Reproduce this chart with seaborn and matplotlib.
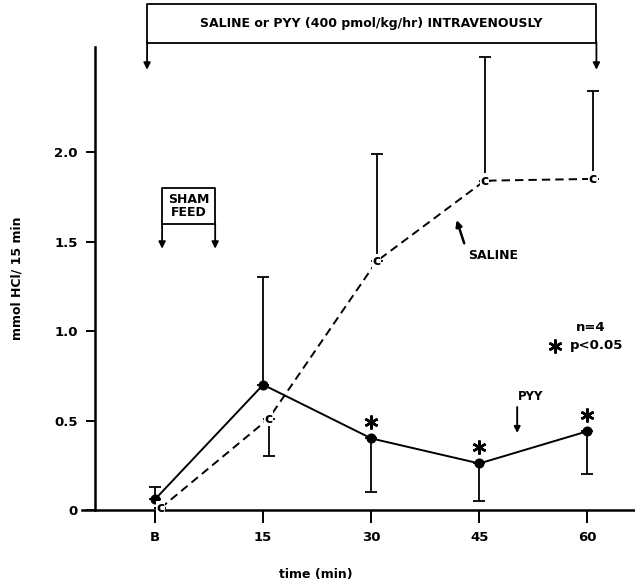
import numpy as np
import pandas as pd
import matplotlib
matplotlib.use("Agg")
import matplotlib.pyplot as plt
import seaborn as sns

# ----------------------------------
# data
# ----------------------------------
times = ["B", "15", "30", "45", "60"]

pyy_mean = [0.06, 0.70, 0.40, 0.26, 0.44]
pyy_err = [0.07, 0.60, 0.30, 0.21, 0.24]
pyy_err_up = [True, True, False, False, False]
pyy_sig = [False, False, True, True, True]

saline_mean = [0.01, 0.51, 1.39, 1.84, 1.85]
saline_err = [0.0, 0.21, 0.60, 0.69, 0.49]
saline_err_up = [True, False, True, True, True]

df = pd.DataFrame({
    "pos": np.arange(len(times)),
    "pyy": pyy_mean,
    "saline": saline_mean,
})

sns.set_theme(style="white")
plt.rcParams["font.family"] = ["DejaVu Sans"]
plt.rcParams["font.weight"] = "bold"
plt.rcParams["text.color"] = "black"
plt.rcParams["axes.labelcolor"] = "black"
plt.rcParams["xtick.color"] = "black"
plt.rcParams["ytick.color"] = "black"

fig = plt.figure(figsize=(6.35, 5.8), dpi=100)
ax = fig.add_axes([82 / 635, 70 / 580, 553 / 635, 463 / 580])

dodge = 0.05
star = (6, 2, 0)

# ----------------------------------
# lines
# ----------------------------------
sns.lineplot(x=df["pos"], y=df["pyy"], ax=ax, color="black", lw=1.4,
             marker="o", markersize=6.5, markeredgecolor="black", zorder=3)
sns.lineplot(x=df["pos"] + dodge, y=df["saline"], ax=ax, color="black",
             lw=1.4, dashes=False, zorder=2)
ax.lines[-1].set_dashes((4.3, 2.6))

# one-sided error bars
def one_sided(err, up):
    lower = [0 if u else e for e, u in zip(err, up)]
    upper = [e if u else 0 for e, u in zip(err, up)]
    return [lower, upper]

ax.errorbar(df["pos"], df["pyy"], yerr=one_sided(pyy_err, pyy_err_up),
            fmt="none", ecolor="black", elinewidth=1.3, capsize=4.5,
            capthick=1.3, zorder=2)
ax.errorbar(df["pos"] + dodge, df["saline"],
            yerr=one_sided(saline_err, saline_err_up),
            fmt="none", ecolor="black", elinewidth=1.3, capsize=4.5,
            capthick=1.3, zorder=2)

# "c" markers on saline points
for x, y in zip(df["pos"] + dodge, df["saline"]):
    ax.text(x, y, "c", ha="center", va="center", fontsize=10,
            fontweight="bold", zorder=4,
            bbox=dict(facecolor="white", edgecolor="none", pad=0.4))

# significance stars
sig = df[pyy_sig]
ax.plot(sig["pos"], sig["pyy"] + 0.09, ls="none", marker=star,
        markersize=10, mew=1.8, color="black")

# ----------------------------------
# axes
# ----------------------------------
ax.set_xlim(-0.676, 4.44)
ax.set_ylim(0, 2.587)
ax.set_xticks(df["pos"])
ax.set_xticklabels(times)
ax.set_yticks([0, 0.5, 1.0, 1.5, 2.0])
ax.set_yticklabels(["0", "0.5", "1.0", "1.5", "2.0"])
for s in ["top", "right"]:
    ax.spines[s].set_visible(False)
ax.spines["left"].set_position(("data", -0.556))
for s in ["left", "bottom"]:
    ax.spines[s].set_color("black")
    ax.spines[s].set_linewidth(1.8)
ax.tick_params(axis="x", direction="out", length=9, width=1.4, pad=6,
               labelsize=9.5, bottom=True)
ax.tick_params(axis="y", direction="out", length=6.5, width=1.4, pad=6,
               labelsize=9.5, left=True)
for lab in ax.get_xticklabels() + ax.get_yticklabels():
    lab.set_fontweight("bold")

ax.set_xlabel("time (min)", fontsize=9, fontweight="bold")
ax.xaxis.set_label_coords(0.423, -0.125)
ax.set_ylabel("mmol HCl/ 15 min", fontsize=9, fontweight="bold")
ax.yaxis.set_label_coords(-0.105, 0.5)

# ----------------------------------
# annotations
# ----------------------------------
# infusion box on top
bx0, bx1, by0, by1 = -0.074, 4.083, 2.61, 2.83
ax.plot([bx0, bx1, bx1, bx0, bx0], [by0, by0, by1, by1, by0], color="black",
        lw=1.3, clip_on=False)
ax.text((bx0 + bx1) / 2, (by0 + by1) / 2, "SALINE or PYY (400 pmol/kg/hr) INTRAVENOUSLY",
        ha="center", va="center", fontsize=9, fontweight="bold")
for bx in [bx0, bx1]:
    ax.annotate("", xy=(bx, 2.46), xytext=(bx, by0 + 0.005),
                arrowprops=dict(arrowstyle="-|>", color="black", lw=1.3,
                                mutation_scale=10, shrinkA=0, shrinkB=0),
                annotation_clip=False)

# sham feed box
sx0, sx1, sy0, sy1 = 0.065, 0.556, 1.60, 1.80
ax.plot([sx0, sx1, sx1, sx0, sx0], [sy0, sy0, sy1, sy1, sy0], color="black", lw=1.3)
ax.text((sx0 + sx1) / 2, (sy0 + sy1) / 2, "SHAM\nFEED", ha="center",
        va="center", fontsize=9, fontweight="bold", linespacing=1.0)
for sx in [sx0, sx1]:
    ax.annotate("", xy=(sx, 1.46), xytext=(sx, sy0 + 0.005),
                arrowprops=dict(arrowstyle="-|>", color="black", lw=1.3,
                                mutation_scale=10, shrinkA=0, shrinkB=0))

# saline label
ax.text(3.13, 1.42, "SALINE", ha="center", va="center", fontsize=9,
        fontweight="bold")
ax.annotate("", xy=(2.79, 1.62), xytext=(2.86, 1.49),
            arrowprops=dict(arrowstyle="-|>", color="black", lw=1.8,
                            mutation_scale=9, shrinkA=0, shrinkB=0))

# PYY label
ax.text(3.47, 0.635, "PYY", ha="center", va="center", fontsize=8.5,
        fontweight="bold")
ax.annotate("", xy=(3.35, 0.43), xytext=(3.35, 0.575),
            arrowprops=dict(arrowstyle="-|>", color="black", lw=1.4,
                            mutation_scale=9, shrinkA=0, shrinkB=0))

# n and p legend
ax.text(4.03, 1.02, "n=4", ha="center", va="center", fontsize=9.5,
        fontweight="bold")
ax.plot([3.70], [0.915], ls="none", marker=star, markersize=10, mew=1.8,
        color="black")
ax.text(3.84, 0.92, "p<0.05", ha="left", va="center", fontsize=9.5,
        fontweight="bold")

fig.savefig("out.png", dpi=100)
